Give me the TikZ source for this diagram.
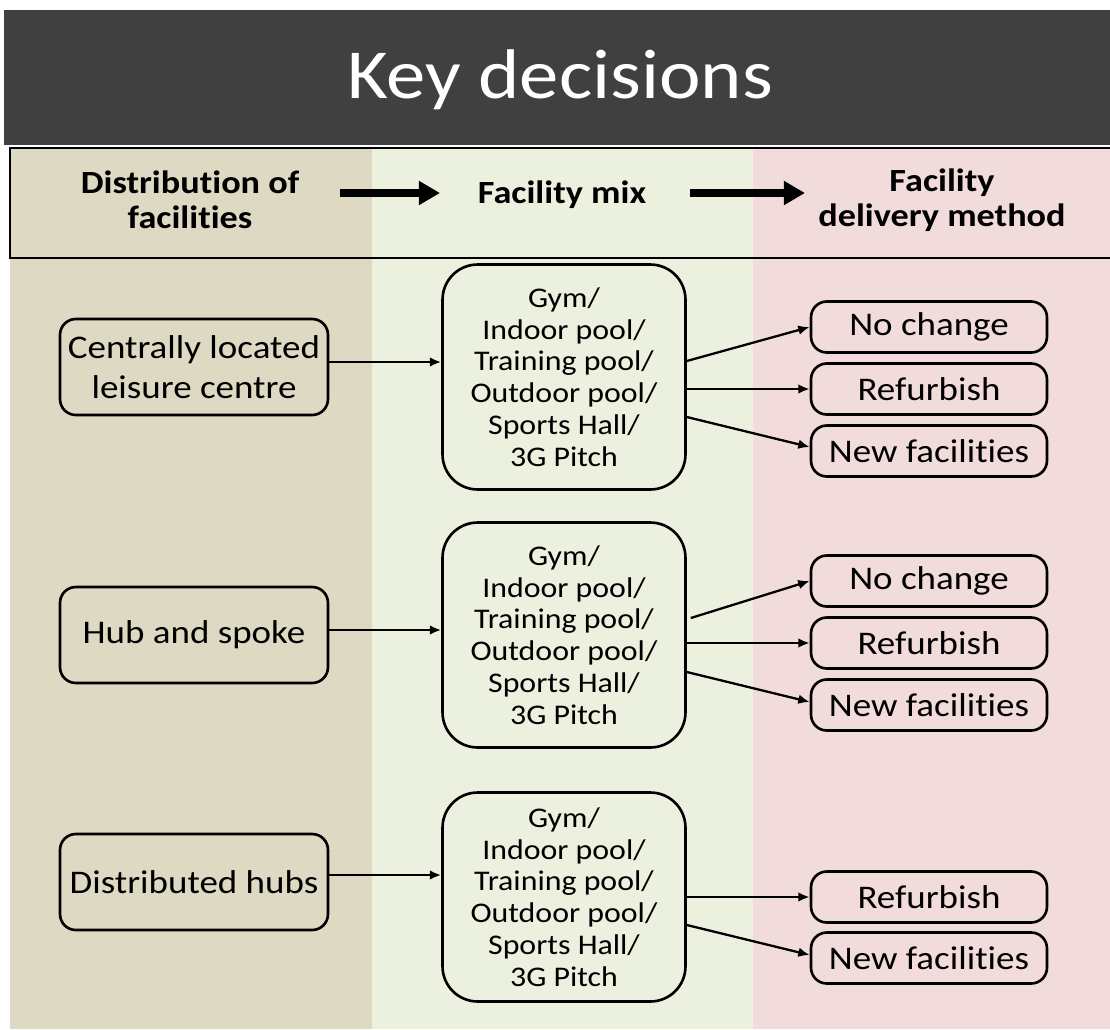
\documentclass[tikz,border=0pt]{standalone}
\usepackage{fontspec}
\setmainfont{Carlito}[FakeStretch=1.12, Ligatures=NoCommon]
\usetikzlibrary{calc}
\usetikzlibrary{arrows.meta}

\definecolor{darkband}{HTML}{404040}
\definecolor{colA}{HTML}{DDD9C3}
\definecolor{colB}{HTML}{EBF1DE}
\definecolor{colC}{HTML}{F2DCDB}

\begin{document}
\begin{tikzpicture}[x=0.02cm, y=-0.02cm,
    box/.style = {draw, line width=1.5pt, rounded corners=9pt, align=center, inner sep=0pt},
    leftbox/.style = {box, minimum width=5.36cm, minimum height=1.92cm, font=\fontsize{18.8}{22.7}\selectfont},
    mixbox/.style = {box, rounded corners=20pt, minimum width=4.86cm, font=\fontsize{16.2}{18.1}\selectfont},
    outbox/.style = {box, minimum width=4.72cm, minimum height=1.02cm, font=\fontsize{18.8}{22.7}\selectfont},
    conn/.style = {line width=1.3pt, -{Latex[length=6.5pt,width=5.5pt]}},
    bigarrow/.style = {line width=4pt, -{Triangle[length=12pt,width=13pt]}},
    head/.style = {align=center, font=\bfseries\fontsize{18.4}{19.8}\selectfont}]

    \useasboundingbox (0,0) rectangle (1110,1029);

    % title band and columns
    \fill[darkband] (4,10) rectangle (1110,145);
    \fill[colA] (10,148) rectangle (372,1029);
    \fill[colB] (372,148) rectangle (753,1029);
    \fill[colC] (753,148) rectangle (1110,1029);
    \draw[line width=0.8pt] (10,148) rectangle (1120,258);

    \node (title) at (560,80) [text=white, font=\fontsize{40}{48}\selectfont] {Key decisions};

    % column headings
    \node (h1) at (190,200) [head] {Distribution of\\facilities};
    \node (h2) at (562,195) [head] {Facility mix};
    \node (h3) at (942,200) [head] {Facility\\delivery method};
    \coordinate (a1) at (340,193);
    \coordinate (b1) at (440,193);
    \coordinate (a2) at (690,193);
    \coordinate (b2) at (805,193);
    \draw[bigarrow] (a1) -- (b1);
    \draw[bigarrow] (a2) -- (b2);

    % distribution
    \node (c1) at (194,367) [leftbox] {Centrally located\\leisure centre};
    \node (c2) at (194,635) [leftbox] {Hub and spoke};
    \node (c3) at (194,882) [leftbox] {Distributed hubs};

    % facility mix
    \node (m1) at (564,377) [mixbox, minimum height=4.5cm] {Gym/\\Indoor pool/\\Training pool/\\Outdoor pool/\\Sports Hall/\\3G Pitch};
    \node (m2) at (564,635) [mixbox, minimum height=4.5cm] {Gym/\\Indoor pool/\\Training pool/\\Outdoor pool/\\Sports Hall/\\3G Pitch};
    \node (m3) at (564,897) [mixbox, minimum height=4.18cm] {Gym/\\Indoor pool/\\Training pool/\\Outdoor pool/\\Sports Hall/\\3G Pitch};

    % delivery method
    \node (r11) at (929,327) [outbox] {No change};
    \node (r12) at (929,389) [outbox] {Refurbish};
    \node (r13) at (929,451) [outbox] {New facilities};
    \node (r21) at (929,581) [outbox] {No change};
    \node (r22) at (929,643) [outbox] {Refurbish};
    \node (r23) at (929,705) [outbox] {New facilities};
    \node (r32) at (929,897) [outbox] {Refurbish};
    \node (r33) at (929,958) [outbox] {New facilities};

    \draw[conn] ($(c1.east)+(0,-5)$) -- ($(c1.east -| m1.west)+(0,-5)$);
    \draw[conn] ($(c2.east)+(0,-5)$) -- ($(c2.east -| m2.west)+(0,-5)$);
    \draw[conn] ($(c3.east)+(0,-7)$) -- ($(c3.east -| m3.west)+(0,-7)$);

    \draw[conn] ($(m1.east)+(0,-16)$) -- (r11.west);
    \draw[conn] (m1.east |- r12.west) -- (r12.west);
    \draw[conn] ($(m1.east)+(0,40)$) -- ($(r13.west)+(0,-4)$);
    \draw[conn] ($(m2.east)+(4,-17)$) -- (r21.west);
    \draw[conn] (m2.east |- r22.west) -- (r22.west);
    \draw[conn] ($(m2.east)+(0,37)$) -- ($(r23.west)+(0,-3)$);
    \draw[conn] (m3.east |- r32.west) -- (r32.west);
    \draw[conn] ($(m3.east)+(0,28)$) -- ($(r33.west)+(0,-3)$);

\end{tikzpicture}
\end{document}
